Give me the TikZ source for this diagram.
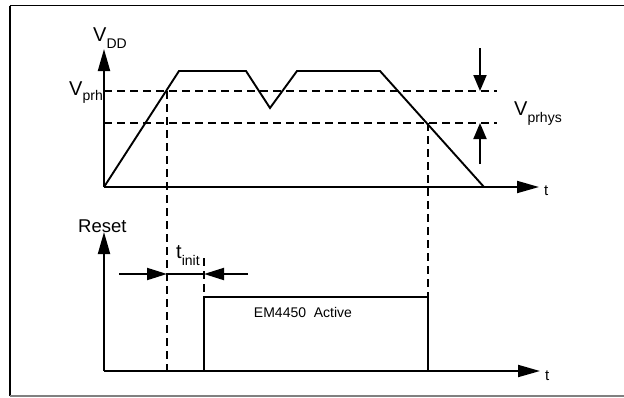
\documentclass[tikz,border=0pt]{standalone}
\usepackage{fontspec}
\setmainfont{Liberation Sans}
\usetikzlibrary{arrows.meta}
\newcommand{\lbl}[3]{#1\raisebox{-#3}{\fontsize{14}{14}\selectfont #2}}
\begin{document}
\begin{tikzpicture}[x=1pt,y=-1pt,
  wave/.style={line width=1.9pt, line join=miter},
  dashline/.style={line width=1.9pt, dash pattern=on 8pt off 5pt},
  axarrow/.style={line width=1.9pt, -{Triangle[length=22pt,width=12pt]}},
  small/.style={line width=1.9pt, -{Triangle[length=16pt,width=13pt]}},
  lab/.style={inner sep=0pt, font=\fontsize{20}{20}\selectfont},
  txt/.style={inner sep=0pt, font=\fontsize{14}{14}\selectfont}]
\useasboundingbox (0,0) rectangle (624,397);
% frame
\draw[line width=2pt] (9.5,396) -- (9.5,5.5);
\draw[line width=1.5pt] (9.5,5.5) -- (624,5.5);
\draw[line width=1.5pt, gray] (9.5,396) -- (624,396);
% coordinates
\coordinate (o1) at (104,187);
\coordinate (vtop) at (104,49);
\coordinate (t1) at (539,187);
\coordinate (o2) at (104,371);
\coordinate (rtop) at (104,232);
\coordinate (t2) at (540,371);
% axes
\draw[axarrow] (o1) -- (vtop);
\draw[axarrow] (o1) -- (t1);
\draw[axarrow] (o2) -- (rtop);
\draw[axarrow] (o2) -- (t2);
% VDD waveform
\coordinate (a1) at (179,71);
\coordinate (a2) at (246,71);
\coordinate (a3) at (270,108);
\coordinate (a4) at (297,71);
\coordinate (a5) at (380,71);
\coordinate (a6) at (484,187);
\draw[wave] (o1) -- (a1) -- (a2) -- (a3) -- (a4) -- (a5) -- (a6);
% threshold dashed lines
\coordinate (h1l) at (104,91); \coordinate (h1r) at (497,91);
\coordinate (h2l) at (104,123); \coordinate (h2r) at (497,123);
\draw[dashline] (h1l) -- (h1r);
\draw[dashline] (h2l) -- (h2r);
% vertical dashed
\coordinate (d1t) at (167,91); \coordinate (d1b) at (167,371);
\draw[dashline] (d1t) -- (d1b);
\coordinate (d2t) at (428,123); \coordinate (d2b) at (428,297);
\draw[dashline] (d2t) -- (d2b);
\coordinate (d3t) at (204,258); \coordinate (d3b) at (204,297);
\draw[dashline] (d3t) -- (d3b);
% Vprhys arrows
\coordinate (p1) at (480,48); \coordinate (p1t) at (480,91);
\coordinate (p2) at (480,164); \coordinate (p2t) at (480,123);
\draw[small] (p1) -- (p1t);
\draw[small] (p2) -- (p2t);
% Reset waveform
\coordinate (r1) at (204,371);
\coordinate (r2) at (204,297);
\coordinate (r3) at (428,297);
\coordinate (r4) at (428,371);
\draw[wave] (r1) -- (r2) -- (r3) -- (r4);
% tinit arrows
\coordinate (ia) at (119,274); \coordinate (ib) at (167,274);
\coordinate (ic) at (204,274); \coordinate (id) at (248,274);
\draw[wave] (ib) -- (ic);
\draw[line width=1.9pt, -{Triangle[length=20pt,width=12pt]}] (ia) -- (ib);
\draw[line width=1.9pt, -{Triangle[length=20pt,width=12pt]}] (id) -- (ic);
% labels
\node[lab, anchor=base west] (vdd) at (93,41) {\lbl{V}{DD}{7pt}};
\node[lab, anchor=base east] (vprh) at (103,95) {\lbl{V}{prh}{5pt}};
\node[lab, anchor=base west] (vprhys) at (514,115) {\lbl{V}{prhys}{7pt}};
\node[lab, anchor=base west] (tinit) at (176,258) {\lbl{t}{init}{7pt}};
\node[txt, font=\fontsize{18.5}{18.5}\selectfont, anchor=base west] (reset) at (78,232) {Reset};
\node[txt] (act) at (303,312) {EM4450\ \ Active};
\node[txt, font=\fontsize{15}{15}\selectfont, anchor=base west] (tl1) at (544,195) {t};
\node[txt, font=\fontsize{15}{15}\selectfont, anchor=base west] (tl2) at (545,380) {t};
\end{tikzpicture}
\end{document}
